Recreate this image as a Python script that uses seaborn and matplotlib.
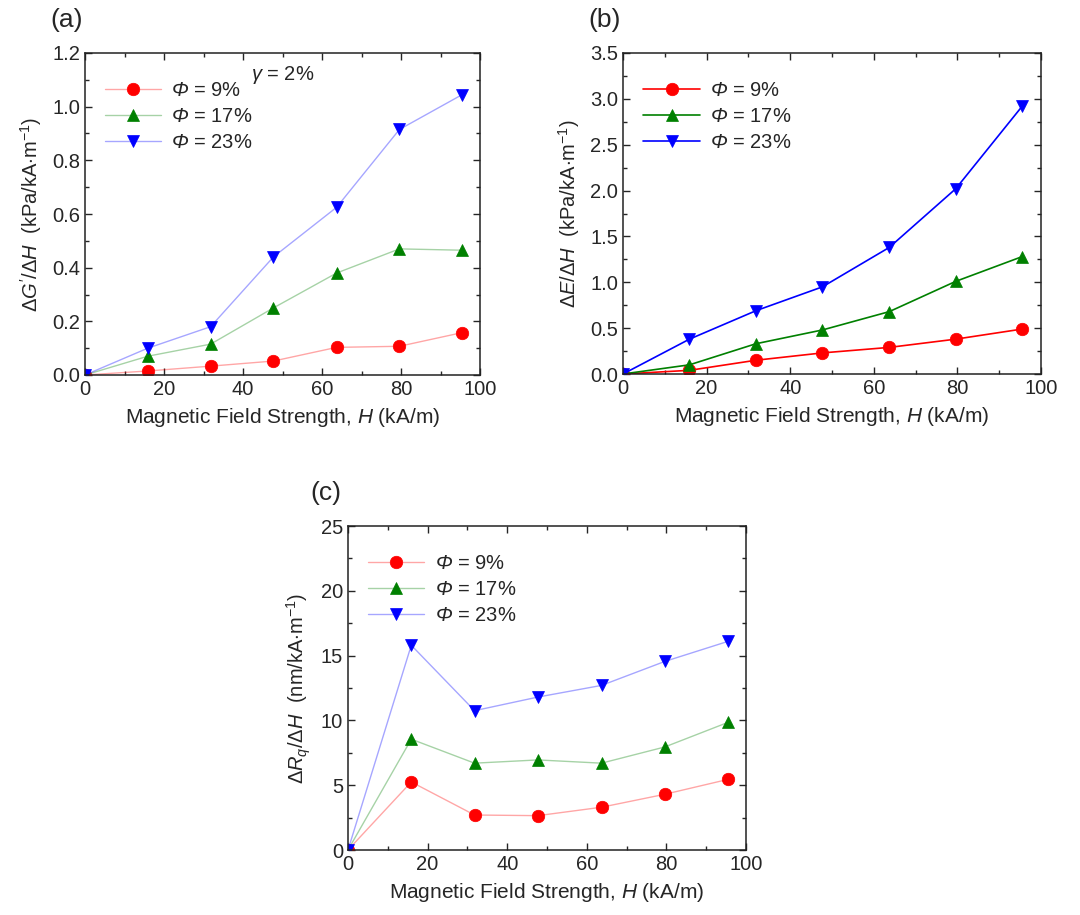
import numpy as np
import pandas as pd
import matplotlib
matplotlib.use('Agg')
import matplotlib.pyplot as plt
import seaborn as sns
from matplotlib.ticker import MultipleLocator

# Dati
H = [0, 15.9, 31.8, 47.7, 63.7, 79.6, 95.5]
series_labels = ['$\\mathsf{\\Phi}$ = 9%', '$\\mathsf{\\Phi}$ = 17%', '$\\mathsf{\\Phi}$ = 23%']

g_9 = [0, 0.015, 0.033, 0.052, 0.103, 0.107, 0.158]
g_17 = [0, 0.07, 0.115, 0.25, 0.38, 0.47, 0.465]
g_23 = [0, 0.10, 0.18, 0.44, 0.625, 0.915, 1.045]

e_9 = [0, 0.04, 0.15, 0.23, 0.29, 0.38, 0.49]
e_17 = [0, 0.10, 0.33, 0.48, 0.68, 1.01, 1.28]
e_23 = [0, 0.38, 0.69, 0.95, 1.38, 2.02, 2.92]

r_9 = [0, 5.25, 2.7, 2.65, 3.3, 4.3, 5.45]
r_17 = [0, 8.55, 6.7, 6.95, 6.7, 7.95, 9.85]
r_23 = [0, 15.8, 10.75, 11.8, 12.7, 14.55, 16.1]

colors = ['#ff0000', '#008000', '#0000ff']
markers = ['o', '^', 'v']

sns.set_style('ticks')
plt.rcParams['font.family'] = ['Liberation Sans', 'DejaVu Sans']
plt.rcParams['mathtext.fontset'] = 'custom'
plt.rcParams['mathtext.it'] = 'Liberation Sans:italic'
plt.rcParams['mathtext.rm'] = 'Liberation Sans'
# sf usato per le lettere greche in corsivo
plt.rcParams['mathtext.sf'] = 'Liberation Sans:italic'

fig = plt.figure(figsize=(10.8, 9.15), dpi=100)
W, Hf = 1080, 915


def make_ax(left, top, right, bottom):
    return fig.add_axes([left / W, 1 - bottom / Hf, (right - left) / W, (bottom - top) / Hf])


def style_ax(ax, ymax, ymaj, ymin, ylabel):
    ax.set_xlim(0, 100)
    ax.set_ylim(0, ymax)
    ax.xaxis.set_major_locator(MultipleLocator(20))
    ax.xaxis.set_minor_locator(MultipleLocator(10))
    ax.yaxis.set_major_locator(MultipleLocator(ymaj))
    ax.yaxis.set_minor_locator(MultipleLocator(ymin))
    ax.tick_params(which='both', direction='in', top=True, right=True, labelsize=14.5, width=1)
    ax.tick_params(which='major', length=5)
    ax.tick_params(which='minor', length=3)
    for s in ax.spines.values():
        s.set_linewidth(1.1)
        s.set_color('#222222')
    ax.set_xlabel('Magnetic Field Strength, $\\mathit{H}$ (kA/m)', fontsize=15, labelpad=5)
    ax.set_ylabel(ylabel, fontsize=14.5, labelpad=6)


def draw(ax, data, alpha, lw):
    for vals, lab, c, m in zip(data, series_labels, colors, markers):
        sns.lineplot(x=H, y=vals, ax=ax, color=c, marker=m, markersize=9, markeredgewidth=0.5,
                     markeredgecolor=c, linewidth=lw, label=lab)
        ln = ax.lines[-1]
        ln.set_color(matplotlib.colors.to_rgba(c, alpha))
        ln.set_markerfacecolor(c)
        ln.set_markeredgecolor(c)
    ax.legend(loc='upper left', bbox_to_anchor=(0.02, 0.95), frameon=False, fontsize=14.5,
              handlelength=2.8, labelspacing=0.35, borderaxespad=0.2, handletextpad=0.5)


# (a)
ax1 = make_ax(85, 53, 480, 375)
draw(ax1, [g_9, g_17, g_23], 0.35, 1.0)
style_ax(ax1, 1.2, 0.2, 0.1, "$\\Delta\\mathit{G}'/\\Delta\\mathit{H}$  (kPa/kA$\\cdot$m$^{-1}$)")
ax1.text(0.42, 0.915, '$\\mathsf{\\gamma}$ = 2%', transform=ax1.transAxes, fontsize=14.5)
fig.text(50 / W, 1 - 20 / Hf, '(a)', fontsize=19, va='center')

# (b)
ax2 = make_ax(623, 53, 1041, 374)
draw(ax2, [e_9, e_17, e_23], 1.0, 1.2)
style_ax(ax2, 3.5, 0.5, 0.25, '$\\Delta\\mathit{E}/\\Delta\\mathit{H}$  (kPa/kA$\\cdot$m$^{-1}$)')
fig.text(588 / W, 1 - 20 / Hf, '(b)', fontsize=19, va='center')

# (c)
ax3 = make_ax(348, 526, 746, 850)
draw(ax3, [r_9, r_17, r_23], 0.35, 1.0)
style_ax(ax3, 25, 5, 2.5, '$\\Delta\\mathit{R_q}/\\Delta\\mathit{H}$  (nm/kA$\\cdot$m$^{-1}$)')
fig.text(310 / W, 1 - 493 / Hf, '(c)', fontsize=19, va='center')

fig.savefig('out.png', dpi=100, facecolor='white')
